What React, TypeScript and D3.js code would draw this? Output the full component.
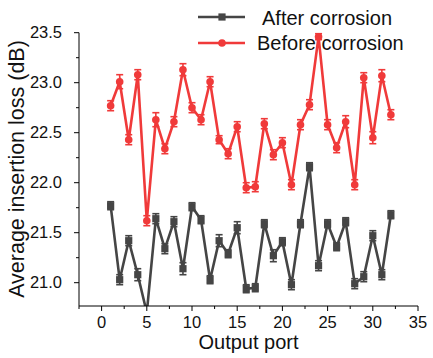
import React from "react";
import * as d3 from "d3";

const ports = d3.range(1, 33);
const beforeVals = [22.77, 23.01, 22.43, 23.08, 21.62, 22.63, 22.34, 22.61, 23.13, 22.75, 22.63, 23.01, 22.43, 22.29, 22.56, 21.95, 21.96, 22.59, 22.28, 22.40, 21.98, 22.58, 22.78, 23.46, 22.58, 22.35, 22.61, 21.98, 23.05, 22.45, 23.07, 22.68];
const afterVals = [21.77, 21.03, 21.42, 21.08, 20.70, 21.64, 21.34, 21.61, 21.14, 21.76, 21.63, 21.03, 21.42, 21.29, 21.55, 20.94, 20.95, 21.59, 21.27, 21.41, 20.98, 21.59, 22.16, 21.17, 21.59, 21.36, 21.61, 20.99, 21.06, 21.47, 21.08, 21.68];
const beforeErr = [0.05, 0.07, 0.05, 0.05, 0.05, 0.07, 0.05, 0.05, 0.06, 0.05, 0.05, 0.05, 0.04, 0.05, 0.05, 0.05, 0.05, 0.05, 0.05, 0.05, 0.05, 0.05, 0.05, 0.03, 0.05, 0.05, 0.06, 0.05, 0.05, 0.06, 0.06, 0.05];
const afterErr = [0.04, 0.05, 0.05, 0.06, 0.05, 0.05, 0.05, 0.05, 0.06, 0.04, 0.04, 0.04, 0.06, 0.04, 0.06, 0.04, 0.04, 0.04, 0.06, 0.04, 0.05, 0.04, 0.04, 0.05, 0.04, 0.04, 0.04, 0.05, 0.05, 0.05, 0.05, 0.04];
const xTicks = [0, 5, 10, 15, 20, 25, 30, 35];
const yTicks = [21.0, 21.5, 22.0, 22.5, 23.0, 23.5];
const seriesNames = ["After corrosion", "Before corrosion"];

const RED = "#f03a3a";
const GRAY = "#454545";
const FONT = "'Liberation Sans', Arial, sans-serif";

export default function App() {
  const W = 433, H = 358;
  const x = d3.scaleLinear().domain([-2.5, 35]).range([79, 418]);
  const y = d3.scaleLinear().domain([20.767, 23.5]).range([306, 32.7]);
  const line = d3.line<number>().x((_, i) => x(ports[i])).y((v) => y(v));
  const xMinor = d3.range(-2.5, 35.01, 2.5).filter((t) => !xTicks.includes(t));
  const yMinor = d3.range(20.75, 23.51, 0.25).filter((t) => y(t) <= 306.5 && !yTicks.some((m) => Math.abs(m - t) < 1e-6));

  const errBars = (vals: number[], errs: number[], color: string) =>
    vals.map((v, i) => {
      const cx = x(ports[i]);
      const y1 = y(v + errs[i]);
      const y2 = y(v - errs[i]);
      return (
        <g key={i} stroke={color} strokeWidth={1.6}>
          <line x1={cx} x2={cx} y1={y1} y2={y2} />
          <line x1={cx - 3.5} x2={cx + 3.5} y1={y1} y2={y1} />
          <line x1={cx - 3.5} x2={cx + 3.5} y1={y2} y2={y2} />
        </g>
      );
    });

  return (
    <svg width={W} height={H} style={{ position: "absolute", left: 0, top: 0 }} fontFamily={FONT}>
      <rect width={W} height={H} fill="#fff" />
      <defs>
        <clipPath id="plotClip">
          <rect x={79} y={0} width={345} height={306 - 0} />
        </clipPath>
      </defs>
      <g clipPath="url(#plotClip)">
        {/* After corrosion */}
        <path d={line(afterVals) || ""} fill="none" stroke={GRAY} strokeWidth={2.6} />
        {errBars(afterVals, afterErr, GRAY)}
        {afterVals.map((v, i) => (
          <rect key={i} x={x(ports[i]) - 3.6} y={y(v) - 3.6} width={7.2} height={7.2} fill={GRAY} />
        ))}
        {/* Before corrosion */}
        <path d={line(beforeVals) || ""} fill="none" stroke={RED} strokeWidth={2.6} />
        {errBars(beforeVals, beforeErr, RED)}
        {beforeVals.map((v, i) => (
          <circle key={i} cx={x(ports[i])} cy={y(v)} r={3.8} fill={RED} />
        ))}
      </g>

      {/* Axes */}
      <g stroke="#000" strokeWidth={1}>
        <line x1={79} x2={79} y1={y(23.5)} y2={306} />
        <line x1={79} x2={418} y1={306} y2={306} />
        {yTicks.map((t) => (
          <line key={t} x1={74} x2={79} y1={y(t)} y2={y(t)} />
        ))}
        {yMinor.map((t) => (
          <line key={t} x1={76} x2={79} y1={y(t)} y2={y(t)} />
        ))}
        {xTicks.map((t) => (
          <line key={t} x1={x(t)} x2={x(t)} y1={306} y2={311} />
        ))}
        {xMinor.map((t) => (
          <line key={t} x1={x(t)} x2={x(t)} y1={306} y2={309} />
        ))}
      </g>
      <g fontSize={16.5} fill="#111">
        {yTicks.map((t) => (
          <text key={t} x={62} y={y(t)} dy="0.35em" textAnchor="end">
            {t.toFixed(1)}
          </text>
        ))}
        {xTicks.map((t) => (
          <text key={t} x={x(t)} y={328} textAnchor="middle">
            {t}
          </text>
        ))}
      </g>
      <text x={x(16.25)} y={349} textAnchor="middle" fontSize={20} fill="#111">
        Output port
      </text>
      <text transform={`translate(24, ${169}) rotate(-90)`} textAnchor="middle" fontSize={21.5} fill="#111">
        Average insertion loss (dB)
      </text>

      {/* Legend */}
      <g>
        <line x1={198} x2={245} y1={17} y2={17} stroke={GRAY} strokeWidth={2.6} />
        <rect x={222 - 3.6} y={17 - 3.6} width={7.2} height={7.2} fill={GRAY} />
        <text x={262} y={25} fontSize={20} fill="#111">{seriesNames[0]}</text>
        <line x1={198} x2={245} y1={43} y2={43} stroke={RED} strokeWidth={2.6} />
        <circle cx={222} cy={43} r={3.8} fill={RED} />
        <text x={257} y={50} fontSize={20} fill="#111">{seriesNames[1]}</text>
      </g>
    </svg>
  );
}
